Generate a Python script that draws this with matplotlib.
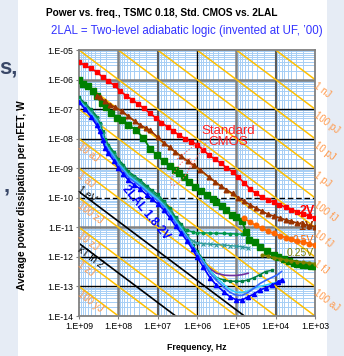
import matplotlib
matplotlib.use('Agg')
import matplotlib.pyplot as plt
import numpy as np
from matplotlib.patches import Ellipse, Rectangle
from matplotlib.transforms import IdentityTransform
from matplotlib.ticker import LogLocator, NullFormatter
from matplotlib.lines import Line2D

plt.rcParams['font.family'] = ['Liberation Sans', 'DejaVu Sans']

# ---------------- data ----------------
x_ticks = [1e9, 1e8, 1e7, 1e6, 1e5, 1e4, 1e3]
x_labels = ['1.E+09', '1.E+08', '1.E+07', '1.E+06', '1.E+05', '1.E+04', '1.E+03']
y_ticks = [1e-14, 1e-13, 1e-12, 1e-11, 1e-10, 1e-9, 1e-8, 1e-7, 1e-6, 1e-5]
y_labels = ['1.E-14', '1.E-13', '1.E-12', '1.E-11', '1.E-10', '1.E-09',
            '1.E-08', '1.E-07', '1.E-06', '1.E-05']

# Standard CMOS, 2 V (red squares)
red_f = [1e9, 7e8, 5e8, 3.5e8, 2.5e8, 1.8e8, 1.25e8, 9e7, 6.3e7, 4.5e7, 3.2e7, 2.2e7,
         1.6e7, 1.1e7, 8e6, 5.6e6, 4e6, 2.8e6, 2e6, 1.4e6, 1e6, 7e5, 5e5, 3.5e5, 2.5e5,
         1.8e5, 1.25e5, 9e4, 6.3e4, 4.5e4, 3.2e4, 2.2e4, 1.6e4, 1.1e4, 8e3, 5.6e3, 4e3,
         2.8e3, 2e3, 1.4e3, 1e3]
red_p = [3.9e-6, 3.0e-6, 2.4e-6, 1.8e-6, 1.2e-6, 8.9e-7, 6.3e-7, 4.2e-7, 2.8e-7, 2.1e-7,
         1.5e-7, 1.05e-7, 7.4e-8, 5.0e-8, 3.5e-8, 2.5e-8, 1.8e-8, 1.3e-8, 1.0e-8, 7.9e-9,
         6.3e-9, 4.2e-9, 2.8e-9, 2.0e-9, 1.5e-9, 1.05e-9, 7.6e-10, 5.0e-10, 3.2e-10,
         2.0e-10, 1.4e-10, 1.05e-10, 8.5e-11, 7.1e-11, 5.9e-11, 4.8e-11, 4.0e-11, 3.4e-11,
         2.8e-11, 2.4e-11, 2.1e-11]

# Standard CMOS, 1 V (brown triangles)
brown_f = [3.5e8, 3e8, 2.2e8, 1.6e8, 1.2e8, 8.1e7, 5.6e7, 3.8e7, 2.8e7, 2e7, 1.55e7, 1e7,
           7.1e6, 5e6, 3.6e6, 2.5e6, 1.7e6, 1.2e6, 8.3e5, 5.1e5, 3.5e5, 2.5e5, 1.8e5,
           1.25e5, 8.9e4, 6.3e4, 4.5e4, 3.2e4, 2.2e4, 1.6e4, 1.1e4, 7.9e3, 5.6e3, 4e3,
           2.8e3, 2e3, 1.4e3, 1e3]
brown_p = [2.8e-7, 2.5e-7, 1.86e-7, 1.4e-7, 1.15e-7, 8.5e-8, 5.8e-8, 3.9e-8, 2.9e-8,
           2.3e-8, 1.9e-8, 1.12e-8, 7.4e-9, 5.2e-9, 3.6e-9, 2.5e-9, 1.7e-9, 1.26e-9,
           8.9e-10, 5.2e-10, 3.5e-10, 2.5e-10, 1.9e-10, 1.4e-10, 1.0e-10, 7.6e-11, 5.8e-11,
           4.5e-11, 3.5e-11, 2.8e-11, 2.4e-11, 2.1e-11, 1.8e-11, 1.6e-11, 1.4e-11,
           1.26e-11, 1.15e-11, 1.05e-11]

# Standard CMOS, 0.5 V (orange circles)
orange_f = [6.3e4, 4.5e4, 3.2e4, 2.2e4, 1.6e4, 1.1e4, 7.9e3, 5.6e3, 4e3, 2.8e3, 2e3, 1.4e3, 1e3]
orange_p = [2.0e-11, 1.5e-11, 1.17e-11, 9.3e-12, 7.4e-12, 6.2e-12, 5.2e-12, 4.5e-12,
            4.0e-12, 3.5e-12, 3.2e-12, 2.8e-12, 2.5e-12]

# Standard CMOS, 0.25 V (olive)
olive_f = [2.2e4, 1.6e4, 1.1e4, 7.9e3, 5.6e3, 4e3, 2.8e3, 2e3, 1.4e3, 1e3]
olive_p = [1.17e-12, 1.05e-12, 9.5e-13, 8.7e-13, 7.9e-13, 7.4e-13, 6.9e-13, 6.5e-13,
           6.2e-13, 5.9e-13]

# Standard CMOS (green squares)
green_f = [1e9, 7.8e8, 5.8e8, 4.5e8, 3.5e8, 2.6e8, 2e8, 1.5e8, 1.1e8, 7.9e7, 5.6e7, 3.5e7,
           2.3e7, 1.55e7, 1.05e7, 7.1e6, 5e6, 3.6e6, 2.8e6, 2.2e6, 1.6e6, 1.1e6, 7.9e5,
           5.6e5, 4e5, 3.2e5, 2.3e5, 1.8e5, 1.3e5, 1e5, 7.2e4, 5.6e4, 4.9e4, 3.3e4, 2.5e4,
           1.7e4, 1.1e4, 8.5e3, 6.3e3, 4.7e3, 3.5e3, 2.9e3, 2e3, 1.6e3, 1.25e3, 1e3]
green_p = [9.5e-7, 7.1e-7, 5.9e-7, 4e-7, 2.75e-7, 1.6e-7, 1.15e-7, 7.6e-8, 5e-8, 4.2e-8,
           3e-8, 1.9e-8, 1.05e-8, 4.5e-9, 2.8e-9, 1.7e-9, 1.2e-9, 8.9e-10, 6.8e-10, 5.2e-10,
           3.5e-10, 2.4e-10, 1.66e-10, 1.2e-10, 8.9e-11, 7.1e-11, 5.1e-11, 3.8e-11, 2.7e-11,
           2.2e-11, 1.6e-11, 7.1e-12, 3.8e-12, 3.2e-12, 2.2e-12, 1.6e-12, 1.2e-12, 1e-12,
           8.5e-13, 7.1e-13, 6.3e-13, 5.9e-13, 5.4e-13, 5.2e-13, 5e-13, 4.8e-13]

# 2LAL curves (1.8-2 V)
lal_f = [1e9, 7.1e8, 5e8, 3.5e8, 3e8, 2.5e8, 2.2e8, 1.8e8, 1.3e8, 1e8, 7.4e7, 5.6e7, 4e7,
         2.8e7, 1.9e7, 1.4e7, 1e7, 7.1e6, 5e6, 3.5e6, 2.5e6, 1.8e6, 1.3e6, 1e6, 6.9e5,
         4.7e5, 3.2e5, 2e5, 1.45e5, 1e5, 7.1e4, 5e4, 3.5e4, 2.5e4, 1.8e4, 1.26e4, 8.9e3, 7.1e3]
lal_a = [1.8e-7, 1.0e-7, 5.6e-8, 2.8e-8, 1.8e-8, 8.9e-9, 5.0e-9, 3.2e-9, 1.8e-9, 1.0e-9,
         6.3e-10, 4.0e-10, 2.8e-10, 2.0e-10, 1.26e-10, 8.9e-11, 6.3e-11, 4.0e-11, 2.2e-11,
         1.1e-11, 6.3e-12, 3.5e-12, 1.8e-12, 1.0e-12, 4.5e-13, 2.0e-13, 1.1e-13, 6.3e-14,
         4.5e-14, 3.5e-14, 3.5e-14, 4.5e-14, 5.6e-14, 7.6e-14, 8.9e-14, 1.1e-13, 1.4e-13,
         1.66e-13]
lal_b = [1.8e-7, 1.1e-7, 6.3e-8, 3.5e-8, 2.2e-8, 1.1e-8, 6.3e-9, 4.0e-9, 2.2e-9, 1.3e-9,
         7.9e-10, 5.0e-10, 3.5e-10, 2.5e-10, 1.6e-10, 1.1e-10, 7.9e-11, 5.0e-11, 2.8e-11,
         1.4e-11, 7.9e-12, 4.5e-12, 2.2e-12, 1.3e-12, 6.3e-13, 2.8e-13, 1.6e-13, 8.9e-14,
         6.3e-14, 5.0e-14, 5.0e-14, 6.3e-14, 8.9e-14, 1.26e-13, 1.6e-13, 2.0e-13, 2.5e-13,
         3.2e-13]
lal_c = [2.0e-7, 1.2e-7, 7.1e-8, 4.0e-8, 2.5e-8, 1.3e-8, 7.1e-9, 4.5e-9, 2.5e-9, 1.4e-9,
         8.9e-10, 5.6e-10, 4.0e-10, 2.8e-10, 1.8e-10, 1.3e-10, 8.9e-11, 5.6e-11, 3.2e-11,
         1.6e-11, 8.9e-12, 5.0e-12, 2.5e-12, 1.4e-12, 7.1e-13, 3.5e-13, 2.0e-13, 1.1e-13,
         7.9e-14, 6.3e-14, 6.3e-14, 7.1e-14, 8.9e-14, 1.0e-13, 1.1e-13, 1.26e-13, 1.4e-13,
         1.4e-13]
lal_d = [2.0e-7, 1.3e-7, 7.9e-8, 4.5e-8, 2.8e-8, 1.4e-8, 7.9e-9, 5.0e-9, 2.8e-9, 1.6e-9,
         1.0e-9, 6.3e-10, 4.5e-10, 3.2e-10, 2.0e-10, 1.4e-10, 1.0e-10, 6.3e-11, 3.5e-11,
         1.8e-11, 1.0e-11, 5.0e-12, 3.5e-12, 3.0e-12, 2.8e-12, 2.7e-12, 2.6e-12, 2.5e-12,
         2.4e-12, 2.3e-12, 2.2e-12, 2.0e-12]
lal_e = [2.2e-7, 1.4e-7, 8.9e-8, 5.0e-8, 3.2e-8, 1.6e-8, 8.9e-9, 5.6e-9, 3.2e-9, 1.8e-9,
         1.1e-9, 7.1e-10, 5.0e-10, 3.5e-10, 2.2e-10, 1.6e-10, 1.1e-10, 7.1e-11, 4.0e-11,
         2.0e-11, 1.1e-11, 8.0e-12, 7.0e-12, 6.6e-12, 6.5e-12, 6.4e-12, 6.3e-12, 6.2e-12,
         6.1e-12, 6.0e-12, 5.8e-12, 5.6e-12]
lal_g = [2.5e-7, 1.6e-7, 1.0e-7, 5.6e-8, 3.5e-8, 1.8e-8, 1.0e-8, 6.3e-9, 3.5e-9, 2.0e-9,
         1.3e-9, 7.9e-10, 5.6e-10, 4.0e-10, 2.5e-10, 1.8e-10, 1.3e-10, 7.9e-11, 4.5e-11,
         2.2e-11, 1.26e-11, 5.6e-12, 2.5e-12, 1.6e-12, 7.9e-13, 3.5e-13, 2.0e-13, 1.6e-13,
         1.5e-13, 1.5e-13, 1.5e-13, 1.66e-13, 2.0e-13, 2.5e-13, 3.2e-13, 3.5e-13]
purple_f = [6.9e5, 4.7e5, 3.2e5, 2e5, 1.45e5, 1e5, 7.1e4, 5e4]
purple_p = [6.3e-13, 4.0e-13, 2.8e-13, 2.4e-13, 2.35e-13, 2.35e-13, 2.5e-13, 2.8e-13]

# constant-energy reference lines
energy_J = [1e-22, 1e-21, 1e-20, 1e-19, 1e-18, 1e-17, 1e-16, 1e-15, 1e-14, 1e-13,
            1e-12, 1e-11, 1e-10, 1e-9]
left_E = [1e-17, 1e-18, 1e-19, 1e-20, 1e-21, 1e-22]
left_lbl = ['10 aJ', '1 aJ', '100 zJ', '10 zJ', '1 zJ', '100 yJ']
right_E = [1e-9, 1e-10, 1e-11, 1e-12, 1e-13, 1e-14, 1e-15, 1e-16]
right_lbl = ['1 nJ', '100 pJ', '10 pJ', '1 pJ', '100 fJ', '10 fJ', '1 fJ', '100 aJ']
phys_E = [1.602e-19, 2.87e-21]
phys_lbl = ['1 eV', 'kT ln 2']
phys_off = [(2, 5), (2, -1)]

# ---------------- figure ----------------
W, H = 344, 356
fig = plt.figure(figsize=(W / 100, H / 100), dpi=100)
fig.patch.set_facecolor('white')
for x0, w in [(0, 18), (327, 17)]:
    fig.add_artist(Rectangle((x0 / W, 0), w / W, 1, transform=fig.transFigure,
                             facecolor='#E6ECF5', edgecolor='none', zorder=0))

ax = fig.add_axes([79 / W, 1 - 316 / H, 236 / W, 266 / H])
ax.set_xscale('log')
ax.set_yscale('log')
ax.set_xlim(1e9, 1e3)
ax.set_ylim(1e-14, 1e-5)
ax.set_facecolor('white')

ax.xaxis.set_minor_locator(LogLocator(base=10, subs=np.arange(2, 10), numticks=100))
ax.yaxis.set_minor_locator(LogLocator(base=10, subs=np.arange(2, 10), numticks=100))
ax.xaxis.set_minor_formatter(NullFormatter())
ax.yaxis.set_minor_formatter(NullFormatter())
ax.grid(which='minor', color='#A6CEF5', lw=0.7, zorder=0)
ax.set_axisbelow(True)
ax.tick_params(which='minor', length=0)
ax.tick_params(which='major', length=2, color='#808080', labelsize=6.3, pad=2)
ax.set_xticks(x_ticks)
ax.set_xticklabels(x_labels)
ax.set_yticks(y_ticks)
ax.set_yticklabels(y_labels)
for s in ax.spines.values():
    s.set_color('#808080')
    s.set_linewidth(1.3)

# major grid styles
h_style = {1e-6: ('#808080', 1.8, '-'), 1e-7: ('black', 1.0, '-'), 1e-8: ('black', 1.0, '-'),
           1e-9: ('#303030', 1.0, '-'), 1e-10: ('black', 1.0, (0, (4, 2))),
           1e-11: ('#808080', 1.8, '-'), 1e-12: ('black', 1.0, '-'), 1e-13: ('black', 1.0, '-')}
v_style = {1e8: ('#808080', 1.8), 1e7: ('#5A5A5A', 1.5), 1e6: ('black', 1.0),
           1e5: ('#808080', 1.8), 1e4: ('#5A5A5A', 1.5)}
for yv, (c, lw, ls) in h_style.items():
    ax.axhline(yv, color=c, lw=lw, ls=ls, zorder=1)
for xv, (c, lw) in v_style.items():
    ax.axvline(xv, color=c, lw=lw, zorder=1)

# energy lines
f_rng = np.array([1e3, 1e9])
for E in energy_J:
    ax.plot(f_rng, E * f_rng, color='#FFC000', lw=1.1, zorder=2)
for E in phys_E:
    ax.plot(f_rng, E * f_rng, color='black', lw=1.2, zorder=2)

ang = -np.degrees(np.arctan((266 / 9) / (236 / 6)))
for E, t in zip(left_E, left_lbl):
    ax.annotate(t, xy=(1e9, E * 1e9), xytext=(2, -2), textcoords='offset points',
                ha='left', va='top', rotation=ang, rotation_mode='anchor',
                color='#FF9A4D', fontsize=7, zorder=3)
for E, t in zip(right_E, right_lbl):
    ax.annotate(t, xy=(1e3, E * 1e3), xytext=(2, -1), textcoords='offset points',
                ha='left', va='top', rotation=ang, rotation_mode='anchor',
                color='#FF9A4D', fontsize=7, annotation_clip=False, zorder=3)
for E, t, off in zip(phys_E, phys_lbl, phys_off):
    ax.annotate(t, xy=(1e9, E * 1e9), xytext=off, textcoords='offset points',
                ha='left', va='top', rotation=ang, rotation_mode='anchor',
                color='black', fontsize=7, zorder=3)

# 2LAL bundle
ax.plot(lal_f[:len(lal_g)], lal_g, color='#008040', lw=1.1, marker='s', ms=1.8, zorder=4)
ax.plot(lal_f[:len(lal_e)], lal_e, color='#00994C', lw=1.0, marker='o', ms=1.8, zorder=4)
ax.plot(lal_f[:len(lal_d)], lal_d, color='#2E9A9A', lw=1.0, marker='x', ms=2.2,
        mew=0.8, zorder=4)
ax.plot(purple_f, purple_p, color='#7030A0', lw=1.2, zorder=4)
ax.plot(lal_f, lal_c, color='#33CCFF', lw=1.2, zorder=5)
ax.plot(lal_f, lal_b, color='#3366FF', lw=1.2, zorder=5)
ax.plot(lal_f, lal_a, color='#0000FF', lw=1.2, marker='^', ms=3, zorder=6)

# standard CMOS curves
ax.plot(green_f, green_p, color='#008000', lw=1.3, marker='s', ms=4.3, zorder=6)
ax.plot(olive_f, olive_p, color='#808000', lw=1.2, marker='o', ms=2, zorder=6)
ax.plot(orange_f, orange_p, color='#FF6600', lw=1.2, marker='o', ms=3.3, zorder=6)
ax.plot(brown_f, brown_p, color='#993300', lw=1.2, marker='^', ms=3.3, zorder=6)
ax.plot(red_f, red_p, color='#FF0000', lw=1.2, marker='s', ms=3.2, zorder=7)


def fx(px):
    return px / W


def fy(py):
    return 1 - py / H


# curve labels
fig.text(fx(315), fy(211), '2V', ha='right', va='center', color='#FF0000',
         fontsize=9, fontweight='bold')
fig.text(fx(314), fy(227), '1V', ha='right', va='center', color='#993300',
         fontsize=9, fontweight='bold')
fig.text(fx(314), fy(240), '0.5V', ha='right', va='center', color='#FF6600', fontsize=7.5)
fig.text(fx(314), fy(253.5), '0.25V', ha='right', va='center', color='#808000',
         fontsize=7.5)
fig.text(fx(228), fy(131), 'Standard', ha='center', va='center', color='#FF2020',
         fontsize=9.5)
fig.text(fx(228), fy(142), 'CMOS', ha='center', va='center', color='#FF2020',
         fontsize=9.5)
fig.text(fx(146), fy(213), '2LAL 1.8-2V', ha='center', va='center', color='#0000FF',
         fontsize=8.5, fontweight='bold', rotation=-50)

# callout
fig.add_artist(Ellipse((181, H - 172), 32, 11, angle=55, transform=IdentityTransform(),
                       fill=False, edgecolor='#FF6060', lw=0.8, ls=':', zorder=8))
for (x0, y0, x1, y1) in [(201, 140, 176, 160), (206, 143, 190, 168)]:
    fig.add_artist(Line2D([x0, x1], [H - y0, H - y1], transform=IdentityTransform(),
                          color='#FF6060', lw=0.8, ls=':', zorder=8))

# titles and axis labels
fig.text(fx(162), fy(13), 'Power vs. freq., TSMC 0.18, Std. CMOS vs. 2LAL', ha='center',
         va='center', fontsize=7.3, fontweight='bold')
fig.text(fx(187), fy(31), "2LAL = Two-level adiabatic logic (invented at UF, \u201900)",
         ha='center', va='center', fontsize=8.3, color='#3333FF')
fig.text(fx(197), fy(348), 'Frequency, Hz', ha='center', va='center', fontsize=6.3,
         fontweight='bold')
fig.text(fx(22), fy(195), 'Average power dissipation per nFET, W', ha='center',
         va='center', rotation=90, fontsize=7.3, fontweight='bold')

# slide fragments at left edge
fig.text(fx(-1), fy(68), 's,', ha='left', va='center', fontsize=16, fontweight='bold',
         color='#3A4868')
fig.text(fx(4), fy(186), ',', ha='left', va='center', fontsize=16, fontweight='bold',
         color='#3A4868')

fig.savefig('out.png', dpi=100, facecolor=fig.get_facecolor())
